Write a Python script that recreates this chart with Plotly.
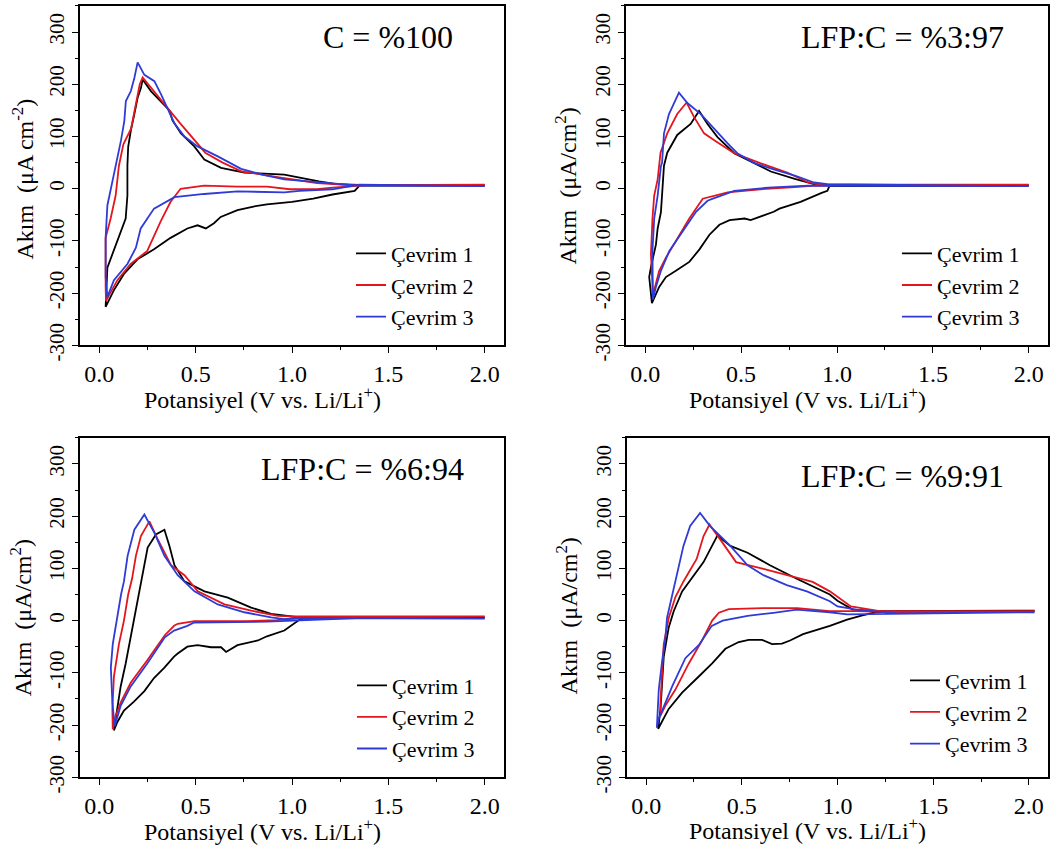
import plotly.graph_objects as go

W, H = 1062, 865

# ---------------- DATA ----------------
panel_titles = ["C = %100", "LFP:C = %3:97", "LFP:C = %6:94", "LFP:C = %9:91"]
cycle_names = ["Çevrim 1", "Çevrim 2", "Çevrim 3"]
x_tickvals = [0.0, 0.5, 1.0, 1.5, 2.0]
x_ticktext = ["0.0", "0.5", "1.0", "1.5", "2.0"]
y_tickvals = [-300, -200, -100, 0, 100, 200, 300]
y_ticktext = ["-300", "-200", "-100", "0", "100", "200", "300"]

# Panel 1: C = %100  (potential V, current µA/cm2)
p1_c1_v = [2.0, 1.35, 1.325, 1.21, 1.11, 1.0, 0.87, 0.80, 0.717, 0.63, 0.595, 0.553, 0.51, 0.457, 0.37, 0.284, 0.198, 0.128, 0.076, 0.042, 0.033,
           0.042, 0.094, 0.137, 0.146, 0.146, 0.15, 0.164, 0.182, 0.199, 0.216, 0.225, 0.268, 0.32, 0.364, 0.38, 0.424, 0.493, 0.545, 0.632, 0.753, 0.96, 1.04, 1.14, 1.23, 1.35, 2.0]
p1_c1_i = [6, 6, -4, -11, -19, -25, -30, -34, -41, -54, -66, -76, -70, -76, -94, -116, -135, -163, -194, -219, -226,
           -151, -101, -57, -13, 44, 80, 112, 143, 174, 193, 209, 187, 168, 150, 131, 106, 81, 56, 40, 31, 27, 21, 14, 9, 7.5, 6]
p1_c2_v = [2.0, 1.39, 1.21, 1.13, 0.99, 0.87, 0.717, 0.544, 0.422, 0.37, 0.318, 0.249, 0.163, 0.094, 0.05, 0.035,
           0.033, 0.033, 0.059, 0.085, 0.102, 0.125, 0.165, 0.19, 0.21, 0.225, 0.268, 0.338, 0.42, 0.49, 0.55, 0.64, 0.74, 0.95, 1.13, 1.30, 2.0]
p1_c2_i = [8, 7, 2, -1, -1, 4, 4, 6, 0, -25, -63, -119, -144, -175, -204, -215,
           -188, -94, -57, -13, 44, 85, 115, 165, 200, 213, 193, 162, 125, 94, 69, 50, 33, 21, 11, 7, 7.5]
p1_c3_v = [2.0, 1.35, 1.21, 1.04, 0.96, 0.717, 0.544, 0.39, 0.284, 0.215, 0.19, 0.146, 0.076, 0.042,
           0.033, 0.033, 0.042, 0.068, 0.095, 0.113, 0.13, 0.138, 0.164, 0.182, 0.199, 0.234, 0.286, 0.32, 0.39, 0.442, 0.51, 0.615, 0.736, 0.857, 0.96, 1.21, 1.35, 2.0]
p1_c3_i = [5, 8, -1, -4, -7, -5, -10, -16, -38, -76, -113, -144, -175, -207,
           -169, -94, -32, 12, 56, 93, 130, 168, 187, 212, 242, 218, 206, 181, 125, 100, 81, 62, 38, 26, 18, 10, 6, 5]

# Panel 2: LFP:C = %3:97
p2_c1_v = [2.0, 1.07, 0.96, 0.95, 0.92, 0.81, 0.70, 0.67, 0.614, 0.55, 0.518, 0.44, 0.387, 0.36, 0.335, 0.283, 0.23, 0.16, 0.108, 0.073, 0.047, 0.035,
           0.021, 0.03, 0.056, 0.065, 0.082, 0.091, 0.098, 0.115, 0.167, 0.237, 0.281, 0.325, 0.377, 0.464, 0.57, 0.655, 0.78, 0.88, 0.97, 2.0]
p2_c1_i = [6, 6, 5, -4, -8, -25, -38, -44, -51, -60, -57, -60, -69, -78, -88, -116, -140, -157, -169, -188, -210, -219,
           -169, -150, -107, -76, -45, 5, 44, 69, 103, 124, 149, 124, 99, 68, 49, 33, 19, 9, 7, 7]
p2_c2_v = [2.0, 1.06, 0.95, 0.88, 0.78, 0.6, 0.43, 0.37, 0.3, 0.23, 0.16, 0.108, 0.073, 0.047, 0.038,
           0.038, 0.03, 0.038, 0.047, 0.065, 0.08, 0.115, 0.167, 0.216, 0.255, 0.307, 0.36, 0.464, 0.6, 0.74, 0.85, 0.92, 2.0]
p2_c2_i = [8, 8, 6, 6, 3, -1, -7, -13, -19, -57, -101, -132, -157, -194, -200,
           -182, -126, -57, -13, 18, 69, 106, 143, 165, 137, 106, 93, 68, 49, 31, 12, 8, 8]
p2_c3_v = [2.0, 0.95, 0.85, 0.64, 0.464, 0.353, 0.325, 0.265, 0.196, 0.126, 0.082, 0.056, 0.04,
           0.038, 0.038, 0.047, 0.065, 0.082, 0.088, 0.098, 0.124, 0.176, 0.22, 0.29, 0.36, 0.43, 0.48, 0.57, 0.67, 0.78, 0.88, 0.95, 2.0]
p2_c3_i = [5, 6, 6, 2, -4, -19, -23, -44, -82, -119, -157, -188, -212,
           -157, -119, -57, -13, 43, 50, 106, 143, 184, 164, 143, 114, 87, 68, 49, 37, 25, 12, 9, 5]

# Panel 3: LFP:C = %6:94
p3_c1_v = [2.0, 1.09, 1.04, 1.0, 0.96, 0.87, 0.823, 0.717, 0.684, 0.658, 0.632, 0.58, 0.51, 0.457, 0.407, 0.388, 0.338, 0.284, 0.234, 0.18, 0.128, 0.094, 0.076,
           0.094, 0.111, 0.137, 0.163, 0.189, 0.215, 0.234, 0.251, 0.294, 0.338, 0.364, 0.39, 0.442, 0.546, 0.667, 0.788, 0.892, 0.96, 1.04, 2.0]
p3_c1_i = [6, 6, 2, -8, -19, -30, -38, -47, -55, -60, -51, -51, -47, -50, -63, -69, -90, -110, -135, -155, -172, -194, -210,
           -169, -126, -82, -32, 18, 68, 108, 140, 165, 174, 143, 106, 75, 56, 44, 25, 13, 10, 6, 6]
p3_c2_v = [2.0, 1.04, 0.92, 0.76, 0.494, 0.407, 0.388, 0.34, 0.249, 0.163, 0.111, 0.085, 0.07,
           0.068, 0.076, 0.102, 0.128, 0.15, 0.17, 0.19, 0.216, 0.26, 0.303, 0.372, 0.442, 0.511, 0.65, 0.788, 0.926, 1.0, 2.0]
p3_c2_i = [8, 5, 1, -1, -1, -6, -10, -28, -76, -119, -157, -182, -208,
           -169, -107, -45, 0, 50, 80, 124, 162, 190, 156, 106, 87, 56, 31, 19, 9, 8, 8]
p3_c3_v = [2.0, 1.37, 1.21, 1.04, 0.87, 0.49, 0.457, 0.388, 0.34, 0.249, 0.163, 0.111, 0.09, 0.08,
           0.068, 0.06, 0.07, 0.09, 0.113, 0.128, 0.147, 0.182, 0.234, 0.286, 0.338, 0.407, 0.494, 0.615, 0.753, 0.892, 0.96, 1.04, 2.0]
p3_c3_i = [4, 5, 3, 1, -2, -4, -10, -19, -32, -82, -126, -163, -188, -202,
           -157, -90, -45, 0, 50, 75, 124, 174, 203, 168, 124, 87, 56, 31, 16, 6, 3, 5, 4]

# Panel 4: LFP:C = %9:91
p4_c1_v = [2.03, 1.2, 1.13, 1.05, 0.96, 0.82, 0.752, 0.71, 0.658, 0.606, 0.536, 0.484, 0.414, 0.345, 0.275, 0.188, 0.118, 0.084, 0.063,
           0.075, 0.084, 0.092, 0.118, 0.144, 0.188, 0.24, 0.3, 0.373, 0.44, 0.53, 0.647, 0.787, 0.892, 0.96, 1.0, 1.08, 1.2, 2.03]
p4_c1_i = [19, 16, 10, 2, -10, -26, -38, -44, -45, -37, -37, -41, -54, -82, -107, -138, -169, -194, -207,
           -169, -107, -69, -13, 18, 56, 82, 112, 163, 143, 130, 106, 80, 62, 50, 38, 21, 18, 19]
p4_c2_v = [2.03, 1.31, 1.1, 0.96, 0.79, 0.61, 0.432, 0.38, 0.345, 0.292, 0.223, 0.153, 0.1, 0.075,
           0.075, 0.084, 0.092, 0.118, 0.153, 0.195, 0.264, 0.3, 0.331, 0.386, 0.47, 0.613, 0.735, 0.87, 0.96, 1.07, 1.22, 2.03]
p4_c2_i = [18, 16, 18, 18, 24, 24, 22, 15, 0, -38, -82, -132, -163, -182,
           -157, -107, -45, 5, 45, 75, 118, 162, 184, 156, 112, 99, 87, 74, 56, 27, 18, 18]
p4_c3_v = [2.03, 1.31, 1.05, 0.96, 0.787, 0.665, 0.53, 0.4, 0.343, 0.275, 0.205, 0.136, 0.092, 0.066, 0.056,
           0.066, 0.084, 0.101, 0.109, 0.136, 0.16, 0.195, 0.23, 0.282, 0.334, 0.44, 0.53, 0.613, 0.735, 0.84, 0.96, 1.0, 1.1, 1.31, 2.03]
p4_c3_i = [16, 14, 12, 16, 21, 15, 9, 0, -10, -47, -72, -126, -163, -188, -205,
           -132, -76, -32, 5, 50, 90, 143, 181, 206, 181, 143, 106, 87, 68, 56, 37, 27, 21, 14, 16]

panels = [
    [(p1_c1_v, p1_c1_i), (p1_c2_v, p1_c2_i), (p1_c3_v, p1_c3_i)],
    [(p2_c1_v, p2_c1_i), (p2_c2_v, p2_c2_i), (p2_c3_v, p2_c3_i)],
    [(p3_c1_v, p3_c1_i), (p3_c2_v, p3_c2_i), (p3_c3_v, p3_c3_i)],
    [(p4_c1_v, p4_c1_i), (p4_c2_v, p4_c2_i), (p4_c3_v, p4_c3_i)],
]
y_titles = ["Akım  (μA cm<sup>-2</sup>)", "Akım  (μA/cm<sup>2</sup>)", "Akım  (μA/cm<sup>2</sup>)", "Akım  (μA/cm<sup>2</sup>)"]
x_title = "Potansiyel (V vs. Li/Li<sup>+</sup>)"

# ---------------- STYLE / LAYOUT ----------------
colors = ["#000000", "#e3161e", "#2f3bd6"]
FONT = "Liberation Serif"

# plot-area pixel boxes (left, top, right, bottom)
boxes = [(80, 6, 504, 352), (626, 6, 1048, 352), (80, 446, 504, 792), (627, 446, 1048, 792)]
title_pos = [(388, 38), (902, 38), (362, 478), (902, 485)]
xtitle_pos = [(262, 405), (807, 405), (262, 846), (807, 845)]
ytitle_pos = [(23, 183), (566, 190), (21, 630), (567, 628)]
legend_pos = [(351, 237), (897, 237), (352, 677), (905, 672)]

fig = go.Figure()
layout = dict(
    width=W, height=H, margin=dict(l=0, r=0, t=0, b=0),
    paper_bgcolor="white", plot_bgcolor="white",
    font=dict(family=FONT, size=22, color="black"),
    annotations=[],
)


def ann(text, px, py, size, angle=0):
    return dict(text=text, x=px / W, y=1 - py / H, xref="paper", yref="paper",
                showarrow=False, xanchor="center", yanchor="middle", textangle=angle,
                font=dict(family=FONT, size=size, color="black"))


for k, panel in enumerate(panels):
    ax = "" if k == 0 else str(k + 1)
    lg = "legend" if k == 0 else "legend" + str(k + 1)
    for c, (v, i) in enumerate(panel):
        fig.add_trace(go.Scatter(
            x=v, y=i, mode="lines", name=cycle_names[c],
            line=dict(color=colors[c], width=1.8),
            xaxis="x" + ax, yaxis="y" + ax, legend=lg,
        ))
    l, t, r, b = boxes[k]
    common = dict(showline=True, mirror=True, linecolor="black", linewidth=1.6,
                  ticks="outside", ticklen=6, tickwidth=1.4, tickcolor="black",
                  showgrid=False, zeroline=False)
    layout["xaxis" + ax] = dict(
        domain=[l / W, r / W], anchor="y" + ax, range=[-0.1, 2.1],
        tickvals=x_tickvals, ticktext=x_ticktext,
        tickfont=dict(family=FONT, size=24, color="black"),
        minor=dict(dtick=0.25, tick0=0, ticks="outside", ticklen=3, tickwidth=1.2, tickcolor="black"),
        **common)
    layout["yaxis" + ax] = dict(
        domain=[1 - b / H, 1 - t / H], anchor="x" + ax, range=[-300, 350],
        tickvals=y_tickvals, ticktext=y_ticktext, tickangle=-90,
        tickfont=dict(family=FONT, size=21, color="black"),
        minor=dict(dtick=50, tick0=0, ticks="outside", ticklen=3, tickwidth=1.2, tickcolor="black"),
        **common)
    layout["annotations"].append(ann(panel_titles[k], *title_pos[k], 32))
    layout["annotations"].append(ann(x_title, *xtitle_pos[k], 24))
    layout["annotations"].append(ann(y_titles[k], *ytitle_pos[k], 24, -90))
    lx, ly = legend_pos[k]
    layout[lg] = dict(x=lx / W, y=1 - ly / H, xanchor="left", yanchor="top",
                      bgcolor="rgba(0,0,0,0)", tracegroupgap=0,
                      font=dict(family=FONT, size=22, color="black"))

fig.update_layout(**layout)
fig.write_html("out.html")
